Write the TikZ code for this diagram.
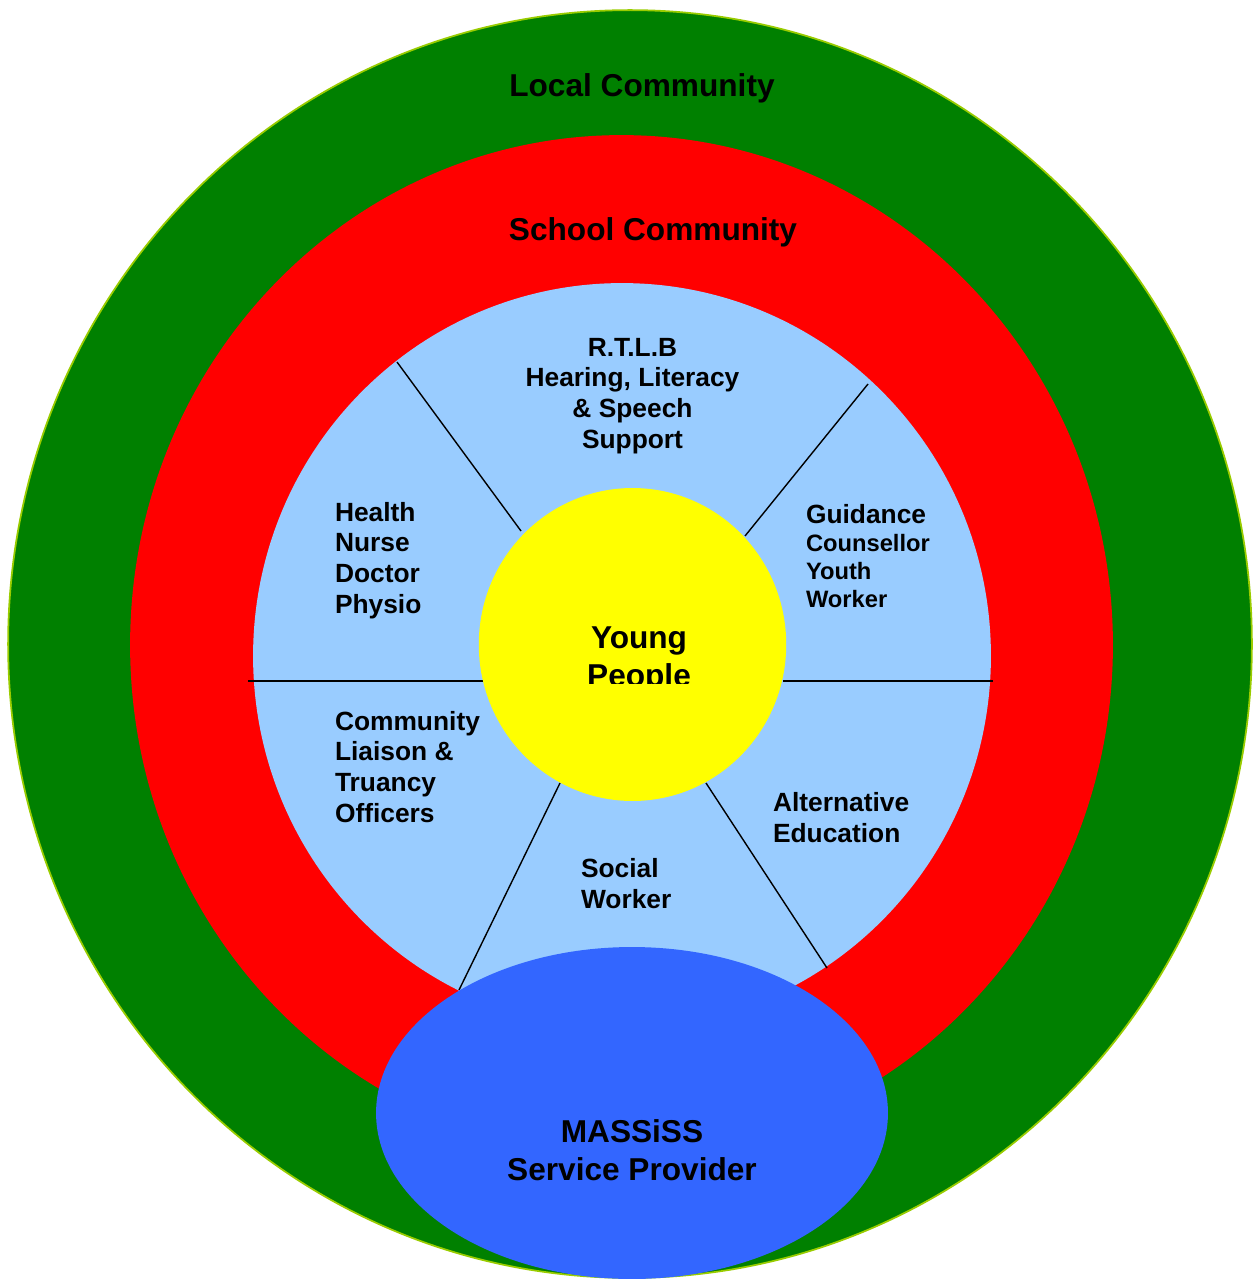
\documentclass[tikz,border=0pt]{standalone}
\usepackage{fontspec}
\setmainfont{Liberation Sans}
\usepackage{tikz}
\usetikzlibrary{shapes.geometric}
\usepackage{xcolor}

\definecolor{localgreen}{HTML}{008000}
\definecolor{rimgreen}{HTML}{99CC00}
\definecolor{schoolred}{HTML}{FF0000}
\definecolor{teamblue}{HTML}{99CCFF}
\definecolor{youngyellow}{HTML}{FFFF00}
\definecolor{providerblue}{HTML}{3366FF}

\begin{document}
\begin{tikzpicture}[
  x=0.02cm, y=-0.02cm,
  every node/.style={inner sep=0pt, outer sep=0pt},
  ring/.style={ellipse, draw=none},
  big/.style={font=\fontsize{18}{21.4}\selectfont\bfseries},
  role/.style={font=\fontsize{15}{17.4}\selectfont\bfseries, align=left, anchor=base west},
  divider/.style={draw=black, line width=0.8pt}
]
\useasboundingbox (0,0) rectangle (1252,1280);

% the rings, from the outside in
\node[ring, fill=localgreen, draw=rimgreen, line width=1pt,
      minimum width=24.88cm, minimum height=25.36cm] (local) at (630,644) {};
\node[ring, fill=schoolred, minimum width=19.66cm, minimum height=20.4cm] (school) at (621.5,645) {};
\node[ring, fill=teamblue, minimum width=14.76cm, minimum height=14.92cm] (team) at (622,656) {};

% spokes between the support services
\coordinate (nwin) at (521,531);  \coordinate (nwout) at (397,362);
\coordinate (nein) at (745,536);  \coordinate (neout) at (868,384);
\coordinate (win) at (483,681);   \coordinate (wout) at (248,681);
\coordinate (ein) at (783,681);   \coordinate (eout) at (993,681);
\coordinate (swin) at (560,783);  \coordinate (swout) at (459,990);
\coordinate (sein) at (706,783);  \coordinate (seout) at (827,968);
\draw[divider] (nwin) -- (nwout);
\draw[divider] (nein) -- (neout);
\draw[divider] (win) -- (wout);
\draw[divider] (ein) -- (eout);
\draw[divider] (swin) -- (swout);
\draw[divider] (sein) -- (seout);

\node[ring, fill=youngyellow, minimum width=6.15cm, minimum height=6.26cm] (young) at (632.5,644.5) {};
\node[ring, fill=providerblue, minimum width=10.24cm, minimum height=6.64cm] (provider) at (632,1113) {};

% ring titles (multi-line nodes sit on their last baseline)
\node[big, anchor=base] (localtitle) at (642,97) {Local Community};
\node[big, anchor=base] (schooltitle) at (653,241) {School Community};

\begin{scope}
  \clip (470,600) rectangle (800,683);
  \node[big, align=center, anchor=base] (youngtitle) at (639,686) {Young\\People};
\end{scope}

% services
\node[role, align=center, anchor=base] (rtlb) at (632.5,448)
  {R.T.L.B\\Hearing, Literacy\\\& Speech\\Support};
\node[role, font=\fontsize{13.5}{15.9}\selectfont\bfseries] (guidance) at (806,607)
  {{\fontsize{15}{15.9}\selectfont Guidance}\\Counsellor\\Youth\\Worker};
\node[role] (health) at (335,613) {Health\\Nurse\\Doctor\\Physio};
\node[role] (liaison) at (335,822) {Community\\Liaison \&\\Truancy\\Officers};
\node[role] (alternative) at (773,842) {Alternative\\Education};
\node[role] (social) at (581,908) {Social\\Worker};

\node[big, align=center, anchor=base] (massiss) at (632,1180) {MASSiSS\\Service Provider};
\end{tikzpicture}
\end{document}
